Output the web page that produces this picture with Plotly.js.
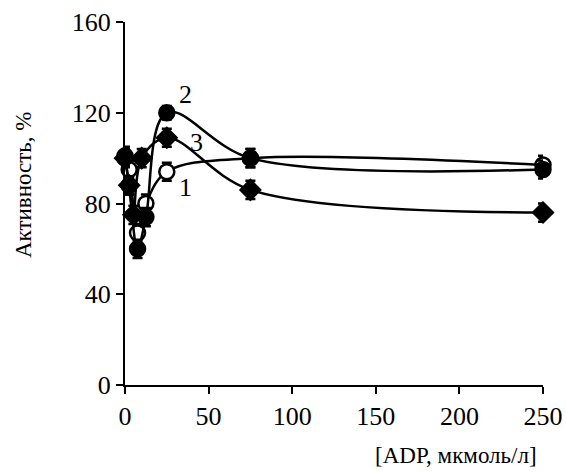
<!DOCTYPE html>
<html>
<head>
<meta charset="utf-8">
<script src="https://cdn.plot.ly/plotly-3.0.1.min.js"></script>
<style>html,body{margin:0;padding:0;background:#fff;}#chart{width:566px;height:472px;}</style>
</head>
<body>
<div id="chart"></div>
<script>
// ADP concentration, µmol/L
const adp1 = [0, 2.5, 7.5, 12.5, 25, 75, 250];
const adp2 = [0, 2.5, 7.5, 12.5, 25, 75, 250];
const adp3 = [0, 2.5, 5, 10, 25, 75, 250];
// Activity, %
const series1 = [100, 95, 67, 80, 94, 100, 97];   // open circles
const series2 = [101, 88, 60, 74, 120, 100, 95];  // filled circles
const series3 = [100, 88, 75, 100, 109, 86, 76];  // diamonds
const err1 = [4, 4, 4, 4, 4, 4, 4];
const err2 = [4, 4, 4, 4, 3, 4, 4];
const err3 = [4, 4, 4, 4, 4, 4, 4];
const curveLabels = ['1', '2', '3'];
const labelX = [36, 36, 43];
const labelY = [87, 128, 107];
const xTicks = [0, 50, 100, 150, 200, 250];
const yTicks = [0, 40, 80, 120, 160];

const font = '"Liberation Serif", "Times New Roman", serif';
function mk(x, y, e, sym, fill) {
  return {
    x: x, y: y, type: 'scatter', mode: 'lines+markers',
    line: {color: '#000', width: 2.5, shape: 'spline', smoothing: 1},
    marker: {symbol: sym, size: sym === 'diamond' ? 15 : 15, color: fill, line: {color: '#000', width: 2.5}},
    error_y: {type: 'data', array: e, visible: true, color: '#000', thickness: 2.5, width: 5},
    cliponaxis: false, showlegend: false
  };
}
const data = [
  mk(adp1, series1, err1, 'circle', '#fff'),
  mk(adp3, series3, err3, 'diamond', '#000'),
  mk(adp2, series2, err2, 'circle', '#000')
];
const annotations = curveLabels.map((t, i) => ({
  x: labelX[i], y: labelY[i], xref: 'x', yref: 'y', text: t, showarrow: false,
  xanchor: 'center', yanchor: 'middle',
  font: {family: font, size: 26, color: '#000'}
}));
annotations.push({
  x: (456-125)/418, y: -(455-385)/363, xref: 'paper', yref: 'paper',
  xanchor: 'center', yanchor: 'middle',
  text: '[ADP, мкмоль/л]', showarrow: false, font: {family: font, size: 23, color: '#000'}
});
annotations.push({
  x: -(125-23)/418, y: (385-185)/363, xref: 'paper', yref: 'paper', textangle: -90,
  xanchor: 'center', yanchor: 'middle',
  text: 'Активность, %', showarrow: false, font: {family: font, size: 23, color: '#000'}
});

const layout = {
  width: 566, height: 472,
  margin: {l: 125, r: 23, t: 22, b: 87},
  paper_bgcolor: '#fff', plot_bgcolor: '#fff',
  font: {family: font, size: 26, color: '#000'},
  xaxis: {
    range: [0, 250], tickvals: xTicks, ticks: 'outside', ticklen: 7, tickwidth: 2, tickcolor: '#000',
    showline: true, linecolor: '#000', linewidth: 2, showgrid: false, zeroline: false,
    tickfont: {family: font, size: 26, color: '#000'}
  },
  yaxis: {
    range: [0, 160], tickvals: yTicks, ticks: 'outside', ticklen: 7, tickwidth: 2, tickcolor: '#000',
    showline: true, linecolor: '#000', linewidth: 2, showgrid: false, zeroline: false,
    tickfont: {family: font, size: 26, color: '#000'}
  },
  annotations: annotations
};
Plotly.newPlot('chart', data, layout, {staticPlot: true});
</script>
</body>
</html>
